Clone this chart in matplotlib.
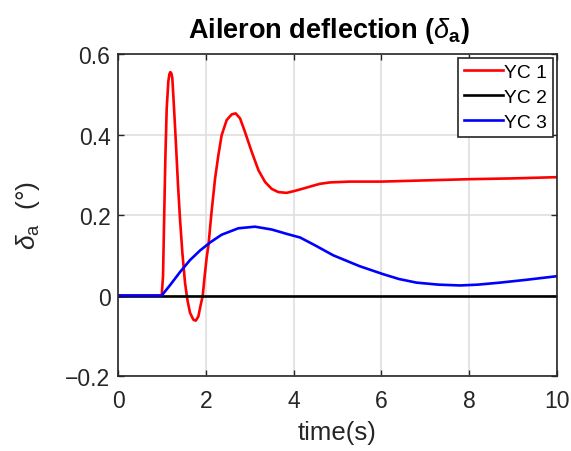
import matplotlib
matplotlib.use("Agg")
import matplotlib.pyplot as plt

plt.rcParams['font.family'] = ['Liberation Sans', 'DejaVu Sans']
plt.rcParams['mathtext.fontset'] = 'custom'
plt.rcParams['mathtext.rm'] = 'Liberation Sans'
plt.rcParams['mathtext.it'] = 'Liberation Sans:italic'
plt.rcParams['mathtext.bf'] = 'Liberation Sans:bold'

# Data
t_yc1 = [0, 0.995, 1.025, 1.055, 1.078, 1.109, 1.146, 1.17, 1.192, 1.215, 1.237, 1.276, 1.321, 1.367,
         1.412, 1.465, 1.526, 1.579, 1.64, 1.716, 1.77, 1.83, 1.88, 1.93, 1.975, 2.02,
         2.06, 2.13, 2.21, 2.285, 2.36, 2.475, 2.59, 2.68, 2.78, 2.89, 3.045, 3.2, 3.35,
         3.5, 3.65, 3.84, 4.03, 4.26, 4.45, 4.6, 4.83, 5.28, 6.0, 7.0, 8.0, 9.0, 10.0]
yc1 = [0, 0, 0.048, 0.215, 0.34, 0.465, 0.532, 0.55, 0.555, 0.552, 0.54, 0.465, 0.373, 0.273,
       0.19, 0.107, 0.032, -0.01, -0.043, -0.06, -0.0625, -0.052, -0.025, 0.0, 0.05, 0.095,
       0.125, 0.207, 0.29, 0.348, 0.398, 0.436, 0.45, 0.4525, 0.44, 0.407, 0.357, 0.311, 0.282,
       0.265, 0.257, 0.255, 0.26, 0.267, 0.273, 0.2775, 0.281, 0.283, 0.283, 0.286, 0.289, 0.291, 0.294]

t_yc2 = [0, 10]
yc2 = [0, 0]

t_yc3 = [0, 0.995, 1.18, 1.41, 1.64, 1.87, 2.1, 2.36, 2.74, 3.12, 3.5, 3.88, 4.15,
         4.5, 4.9, 5.5, 6.04, 6.4, 6.8, 7.3, 7.79, 8.2, 8.7, 9.3, 10.0]
yc3 = [0, 0, 0.025, 0.058, 0.088, 0.112, 0.132, 0.151, 0.167, 0.171, 0.164, 0.152, 0.144,
       0.124, 0.1, 0.073, 0.053, 0.041, 0.032, 0.027, 0.025, 0.027, 0.032, 0.039, 0.048]

labels = ['YC 1', 'YC 2', 'YC 3']
xticks = [0, 2, 4, 6, 8, 10]
yticks = [-0.2, 0, 0.2, 0.4, 0.6]
ytick_labels = ['\u22120.2', '0', '0.2', '0.4', '0.6']

fig = plt.figure(figsize=(5.71, 4.52), dpi=100)
ax = fig.add_axes([0.2067, 0.1659, 0.7688, 0.7124])

ax.plot(t_yc1, yc1, color='#ff0000', lw=1.9, label=labels[0])
ax.plot(t_yc2, yc2, color='#000000', lw=1.9, label=labels[1])
ax.plot(t_yc3, yc3, color='#0000ff', lw=1.9, label=labels[2])

ax.set_xlim(0, 10)
ax.set_ylim(-0.2, 0.6)
ax.set_xticks(xticks)
ax.set_yticks(yticks)
ax.set_xticklabels([str(v) for v in xticks])
ax.set_yticklabels(ytick_labels)
ax.grid(True, color='#dfdfdf', lw=1.2)
ax.set_axisbelow(True)
for s in ax.spines.values():
    s.set_color('#262626')
    s.set_linewidth(1.2)
ax.tick_params(direction='in', length=4, width=1.0, colors='#262626',
               labelsize=16.5, top=True, right=True)
ax.tick_params(axis='x', pad=9)
ax.tick_params(axis='y', pad=5.5)

ax.set_xlabel('time(s)', fontsize=18.5, color='#262626', labelpad=6)
ax.set_ylabel(r'$\delta_{\mathrm{a}}\ \ (\degree)$', fontsize=19, color='#262626', labelpad=17)
ax.set_title(r'Aileron deflection ($\delta_{\mathbf{a}}$)', fontsize=19.5, fontweight='bold',
             color='#000000', pad=12, x=0.48)

leg = ax.legend(loc='upper right', fontsize=13.9, frameon=True, fancybox=False,
                borderpad=0.3, labelspacing=0.38, handlelength=2.0, handletextpad=0.1,
                borderaxespad=0.2)
leg.get_frame().set_edgecolor('#262626')
leg.get_frame().set_linewidth(1.2)
leg.get_frame().set_alpha(1)

fig.savefig('out.png', dpi=100)
